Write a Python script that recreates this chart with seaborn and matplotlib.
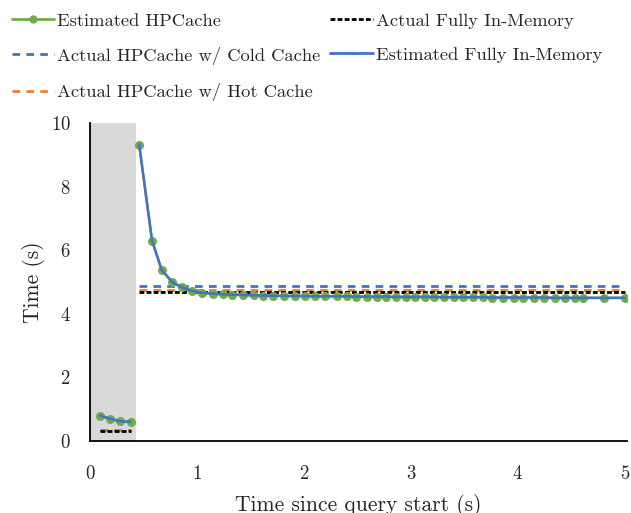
import matplotlib
matplotlib.use("Agg")
import matplotlib.pyplot as plt
import seaborn as sns
from matplotlib.lines import Line2D

# Estimated HPCache / Fully In-Memory time estimates (two query phases)
est_x_warmup = [0.09, 0.19, 0.28, 0.38]
est_y_warmup = [0.80, 0.70, 0.62, 0.60]

est_x_main = [0.46, 0.58, 0.67, 0.77, 0.86, 0.95, 1.05, 1.15, 1.24, 1.33,
              1.43, 1.53, 1.62, 1.71, 1.81, 1.92, 2.01, 2.10, 2.20, 2.31,
              2.40, 2.49, 2.59, 2.68, 2.77, 2.86, 2.95, 3.04, 3.13, 3.22,
              3.31, 3.40, 3.49, 3.58, 3.67, 3.76, 3.86, 3.96, 4.05, 4.15,
              4.24, 4.35, 4.44, 4.53, 4.61, 4.81, 5.00]
est_y_main = [9.32, 6.30, 5.38, 4.99, 4.83, 4.72, 4.66, 4.63, 4.61, 4.60,
              4.59, 4.58, 4.57, 4.57, 4.56, 4.56, 4.56, 4.55, 4.55, 4.55,
              4.55, 4.54, 4.54, 4.54, 4.54, 4.53, 4.53, 4.53, 4.53, 4.53,
              4.52, 4.52, 4.52, 4.52, 4.52, 4.51, 4.51, 4.51, 4.51, 4.51,
              4.51, 4.50, 4.50, 4.50, 4.50, 4.50, 4.50]

# Measured times (constant per phase)
phase_x = [[0.09, 0.38], [0.46, 5.00]]
cold_cache = [0.33, 4.88]
hot_cache = [0.33, 4.75]
fully_in_memory = [0.32, 4.68]

shade_end = 0.43

GREEN = "#70ad47"
BLUE = "#4472c4"
ORANGE = "#ed7d31"
GRAY = "#d9d9d9"

sns.set_theme(style="white")
plt.rcParams["font.family"] = ["cmr10", "DejaVu Serif"]
plt.rcParams["axes.formatter.use_mathtext"] = True
plt.rcParams["lines.scale_dashes"] = False
plt.rcParams["font.size"] = 13

fig = plt.figure(figsize=(6.31, 5.13), dpi=100)
ax = fig.add_axes([0.1426, 0.1404, 0.851, 0.6199])

ax.axvspan(0, shade_end, color=GRAY, lw=0, zorder=0)

long_dash = (5.5, 4.5)
short_dash = (3.5, 1.6)


def flat(xs, level, color, dashes, z):
    sns.lineplot(x=xs, y=[level, level], ax=ax, color=color, lw=2.0,
                 sort=False, estimator=None, zorder=z)
    ax.lines[-1].set_dashes(dashes)


for i, xs in enumerate(phase_x):
    flat(xs, cold_cache[i], BLUE, long_dash, 2)
    flat(xs, hot_cache[i], ORANGE, long_dash, 3)
    flat(xs, fully_in_memory[i], "black", short_dash, 4)

for xs, ys in [(est_x_warmup, est_y_warmup), (est_x_main, est_y_main)]:
    sns.lineplot(x=xs, y=ys, ax=ax, color=GREEN, lw=1.8, marker="o",
                 markersize=6.5, markeredgewidth=0, sort=False,
                 estimator=None, zorder=5)
    sns.lineplot(x=xs, y=ys, ax=ax, color=BLUE, lw=1.8, sort=False,
                 estimator=None, zorder=6)

ax.set_xlim(0, 5.02)
ax.set_ylim(0, 10)
ax.set_xticks([0, 1, 2, 3, 4, 5])
ax.set_yticks([0, 2, 4, 6, 8, 10])
ax.tick_params(axis="both", length=0, labelsize=13.5)
ax.tick_params(axis="x", pad=17)
ax.tick_params(axis="y", pad=14)
sns.despine(ax=ax)
for side in ("left", "bottom"):
    ax.spines[side].set_color("black")
    ax.spines[side].set_linewidth(1.3)
ax.set_xlabel("Time since query start (s)", fontsize=15.5, labelpad=8)
ax.set_ylabel("Time (s)", fontsize=15.5, labelpad=4)

handles = [
    Line2D([], [], color=GREEN, lw=2, marker="o", markersize=5),
    Line2D([], [], color=BLUE, lw=2.0, dashes=long_dash),
    Line2D([], [], color=ORANGE, lw=2.0, dashes=long_dash),
    Line2D([], [], color="black", lw=2.0, dashes=short_dash),
    Line2D([], [], color=BLUE, lw=2, marker=".", markersize=2),
]
labels = [
    "Estimated HPCache",
    "Actual HPCache w/ Cold Cache",
    "Actual HPCache w/ Hot Cache",
    "Actual Fully In-Memory",
    "Estimated Fully In-Memory",
]
fig.legend(handles, labels, ncol=2, loc="upper left",
           bbox_to_anchor=(-0.002, 1.0), frameon=False, fontsize=13.3,
           handlelength=2.3, handletextpad=0.15, labelspacing=0.98,
           columnspacing=0.55, borderaxespad=0.3)

fig.savefig("out.png", dpi=100)
